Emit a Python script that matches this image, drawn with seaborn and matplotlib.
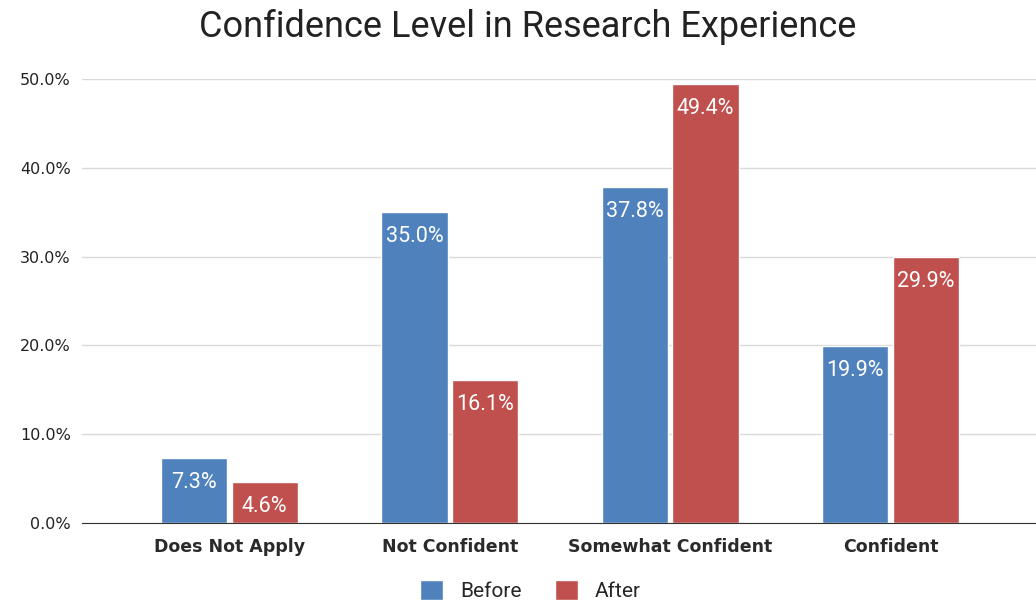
import pandas as pd
import seaborn as sns
import matplotlib.pyplot as plt

sns.set_style("white")

categories = ["Does Not Apply", "Not Confident", "Somewhat Confident", "Confident"]
before = [7.3, 35.0, 37.8, 19.9]
after = [4.6, 16.1, 49.4, 29.9]
series = ["Before", "After"]
colors = ["#4f81bd", "#c0504d"]

df = pd.DataFrame({
    "category": categories * 2,
    "value": before + after,
    "series": [series[0]] * len(categories) + [series[1]] * len(categories),
})

fig = plt.figure(figsize=(10.36, 6.05), dpi=100)
ax = fig.add_axes([0.079, 0.1355, 0.921, 0.734])

sns.barplot(data=df, x="category", y="value", hue="series", palette=colors,
            saturation=1, width=0.64, gap=0.06, edgecolor="white", linewidth=1, ax=ax)

for c in ax.containers:
    ax.bar_label(c, labels=["%.1f%%" % v for v in c.datavalues], padding=-25,
                 color="white", fontsize=15.5, family="Roboto")

ax.set_ylim(0, 50)
ax.set_xlim(-0.67, 3.66)
ax.set_yticks([0, 10, 20, 30, 40, 50])
ax.set_yticklabels(["%.1f%%" % t for t in [0, 10, 20, 30, 40, 50]], fontsize=11.5,
                   color="#222222", family="DejaVu Sans")
ax.set_xticks(range(len(categories)))
ax.set_xticklabels(categories, fontsize=12.5, color="#2a2a2a", family="DejaVu Sans",
                   fontweight="bold")
ax.tick_params(axis="x", length=0, pad=11)
ax.tick_params(axis="y", length=0, pad=8)
ax.yaxis.grid(True, color="#d9d9d9", linewidth=1)
ax.set_axisbelow(True)
for s in ["top", "right", "left"]:
    ax.spines[s].set_visible(False)
ax.spines["bottom"].set_color("#333333")
ax.set_xlabel("")
ax.set_ylabel("")

fig.text(0.509, 0.955, "Confidence Level in Research Experience", ha="center", va="center",
         fontsize=26, family="Roboto", color="#222222")

ax.legend(loc="upper center", bbox_to_anchor=(0.47, -0.085), ncol=2, frameon=False,
          prop={"family": "Roboto", "size": 15}, handlelength=1.1, handleheight=1.1,
          handletextpad=0.8, columnspacing=1.6)

fig.savefig("out.png", dpi=100)
